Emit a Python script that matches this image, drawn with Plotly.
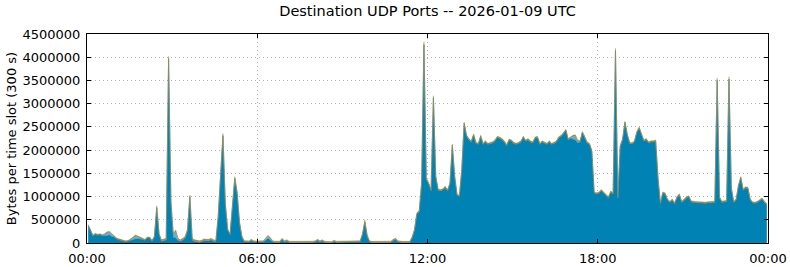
import pandas as pd
import plotly.graph_objects as go

# values in kB per 5-minute slot, one row per hour (12 slots)
blue_kb = [
    380, 280, 150, 190, 170, 180, 160, 150, 160, 170, 140, 130,
    90, 70, 50, 40, 30, 40, 50, 70, 90, 90, 90, 80,
    60, 110, 110, 40, 130, 760, 180, 40, 50, 70, 3970, 870,
    120, 110, 55, 35, 65, 105, 270, 1000, 65, 35, 25, 15,
    30, 60, 50, 50, 70, 40, 30, 570, 1460, 2310, 830, 280,
    180, 770, 1390, 1070, 430, 130, 25, 25, 20, 55, 25, 20,
    25, 35, 25, 55, 95, 65, 25, 15, 15, 15, 75, 25,
    45, 15, 10, 10, 10, 5, 5, 10, 15, 15, 15, 15,
    25, 55, 25, 45, 15, 5, 5, 5, 35, 15, 15, 15,
    15, 15, 15, 25, 25, 25, 25, 25, 175, 450, 145, 25,
    10, 10, 10, 10, 15, 15, 15, 15, 15, 55, 75, 25,
    10, 10, 10, 10, 10, 110, 270, 625, 675, 1270, 4270, 1370,
    1275, 1125, 3130, 1425, 1135, 1125, 1145, 1195, 1125, 1275, 2105, 1425,
    1025, 1005, 1575, 2575, 2305, 2225, 2175, 2325, 2145, 2125, 2295, 2125,
    2175, 2125, 2145, 2155, 2195, 2275, 2255, 2225, 2175, 2095, 2215, 2195,
    2145, 2125, 2145, 2175, 2275, 2195, 2225, 2175, 2155, 2255, 2275, 2125,
    2175, 2155, 2125, 2175, 2125, 2145, 2175, 2265, 2295, 2355, 2425, 2225,
    2255, 2235, 2225, 2155, 2175, 2375, 2275, 2155, 2125, 1975, 1075, 1055,
    1075, 1125, 1075, 1015, 975, 1095, 1055, 4140, 975, 2075, 2225, 2595,
    2325, 2145, 2135, 2175, 2375, 2475, 2355, 2195, 2225, 2155, 2175, 2175,
    2195, 1375, 845, 1075, 1055, 925, 875, 925, 845, 975, 1035, 875,
    915, 975, 995, 885, 875, 865, 865, 865, 855, 855, 865, 865,
    875, 875, 3500, 975, 875, 885, 895, 3530, 1175, 875, 925, 1225,
    1405, 1135, 1185, 1175, 925, 865, 855, 875, 915, 945, 875, 825,
]

light_kb = [
    0, 0, 0, 0, 0, 0, 0, 30, 60, 60, 40, 0,
    0, 0, 0, 0, 0, 0, 20, 50, 60, 40, 20, 0,
    0, 0, 0, 0, 0, 0, 0, 0, 0, 0, 0, 0,
    60, 150, 10, 0, 0, 0, 0, 0, 0, 0, 0, 0,
    0, 0, 0, 0, 0, 0, 0, 0, 0, 0, 0, 0,
    0, 0, 0, 0, 0, 0, 0, 0, 0, 0, 0, 0,
    0, 0, 0, 20, 40, 30, 0, 0, 0, 0, 0, 0,
    0, 0, 0, 0, 0, 0, 0, 0, 0, 0, 0, 0,
    0, 0, 0, 0, 0, 0, 0, 0, 0, 0, 0, 0,
    0, 0, 0, 0, 0, 0, 0, 0, 0, 0, 0, 0,
    0, 0, 0, 0, 0, 0, 0, 0, 0, 0, 0, 0,
    0, 0, 0, 0, 0, 0, 0, 0, 0, 0, 0, 0,
    0, 0, 0, 0, 0, 0, 0, 0, 0, 0, 0, 0,
    0, 0, 0, 0, 0, 0, 0, 0, 0, 0, 0, 0,
    0, 0, 0, 0, 0, 0, 0, 0, 0, 0, 0, 0,
    0, 0, 0, 0, 0, 0, 0, 0, 0, 0, 0, 0,
    0, 0, 0, 0, 0, 0, 0, 0, 0, 0, 0, 0,
    0, 60, 80, 40, 0, 0, 0, 0, 0, 0, 0, 0,
    0, 0, 0, 0, 0, 0, 0, 0, 0, 0, 0, 0,
    0, 0, 0, 0, 0, 0, 0, 0, 0, 0, 0, 0,
    0, 0, 0, 0, 0, 0, 0, 0, 0, 0, 0, 0,
    0, 0, 0, 0, 0, 0, 0, 0, 0, 0, 0, 0,
    0, 0, 0, 0, 0, 0, 0, 0, 0, 0, 0, 0,
    0, 0, 0, 0, 0, 0, 0, 0, 0, 0, 0, 0,
]

orange_kb = [
    0, 0, 0, 0, 0, 0, 0, 0, 0, 0, 0, 0,
    0, 0, 0, 0, 0, 0, 0, 0, 0, 0, 0, 0,
    0, 0, 0, 0, 0, 0, 0, 10, 10, 10, 0, 0,
    0, 0, 15, 15, 15, 15, 10, 0, 15, 15, 15, 15,
    15, 15, 15, 15, 15, 15, 15, 0, 0, 0, 0, 0,
    0, 0, 0, 0, 0, 0, 10, 10, 10, 10, 10, 10,
    10, 10, 10, 10, 10, 10, 10, 10, 10, 10, 10, 10,
    10, 10, 10, 10, 10, 10, 10, 10, 10, 10, 10, 10,
    10, 10, 10, 10, 10, 10, 10, 10, 10, 10, 10, 10,
    10, 10, 10, 10, 10, 10, 10, 10, 10, 10, 10, 10,
    10, 10, 10, 10, 10, 10, 10, 10, 10, 10, 10, 10,
    10, 10, 10, 10, 10, 10, 10, 0, 0, 0, 0, 0,
    0, 0, 0, 0, 0, 0, 0, 0, 0, 0, 0, 0,
    0, 0, 0, 0, 0, 0, 0, 0, 0, 0, 0, 0,
    0, 0, 0, 0, 0, 0, 0, 0, 0, 0, 0, 0,
    0, 0, 0, 0, 0, 0, 0, 0, 0, 0, 0, 0,
    0, 0, 0, 0, 0, 0, 0, 0, 0, 0, 0, 0,
    0, 0, 0, 0, 0, 0, 0, 0, 0, 0, 0, 0,
    0, 0, 0, 0, 0, 0, 0, 0, 0, 0, 0, 0,
    0, 0, 0, 0, 0, 0, 0, 0, 0, 0, 0, 0,
    0, 0, 0, 0, 0, 0, 0, 0, 0, 0, 0, 0,
    0, 0, 0, 0, 0, 0, 0, 0, 0, 0, 0, 0,
    0, 0, 0, 0, 0, 0, 0, 0, 0, 0, 0, 0,
    0, 0, 0, 0, 0, 0, 0, 0, 0, 0, 0, 0,
]

olive_kb = [
    20, 20, 20, 20, 20, 20, 20, 20, 20, 20, 20, 20,
    20, 20, 20, 20, 20, 20, 20, 20, 20, 20, 20, 20,
    20, 20, 20, 20, 20, 40, 20, 20, 20, 20, 50, 30,
    20, 20, 20, 20, 20, 20, 20, 30, 20, 20, 20, 20,
    15, 15, 15, 15, 15, 15, 15, 30, 40, 50, 30, 20,
    20, 30, 40, 30, 20, 20, 15, 15, 15, 15, 15, 15,
    15, 15, 15, 15, 15, 15, 15, 15, 15, 15, 15, 15,
    15, 15, 15, 15, 15, 15, 15, 15, 15, 15, 15, 15,
    15, 15, 15, 15, 15, 15, 15, 15, 15, 15, 15, 15,
    15, 15, 15, 15, 15, 15, 15, 15, 15, 40, 15, 15,
    15, 15, 15, 15, 15, 15, 15, 15, 15, 15, 15, 15,
    15, 15, 15, 15, 15, 20, 20, 25, 25, 30, 60, 30,
    25, 25, 40, 25, 25, 25, 25, 25, 25, 25, 25, 25,
    25, 25, 25, 25, 25, 25, 25, 25, 25, 25, 25, 25,
    25, 25, 25, 25, 25, 25, 25, 25, 25, 25, 25, 25,
    25, 25, 25, 25, 25, 25, 25, 25, 25, 25, 25, 25,
    25, 25, 25, 25, 25, 25, 25, 25, 25, 25, 25, 25,
    25, 25, 25, 25, 25, 25, 25, 25, 25, 25, 25, 25,
    25, 25, 25, 25, 25, 25, 25, 50, 25, 25, 25, 25,
    25, 25, 25, 25, 25, 25, 25, 25, 25, 25, 25, 25,
    25, 25, 25, 25, 25, 25, 25, 25, 25, 25, 25, 25,
    25, 25, 25, 25, 25, 25, 25, 25, 25, 25, 25, 25,
    25, 25, 50, 25, 25, 25, 25, 50, 25, 25, 25, 25,
    25, 25, 25, 25, 25, 25, 25, 25, 25, 25, 25, 25,
]

y_ticks = [0, 500000, 1000000, 1500000, 2000000, 2500000, 3000000, 3500000, 4000000, 4500000]
x_tick_labels = ["00:00", "06:00", "12:00", "18:00", "00:00"]
x_ticks = ["2026-01-09 00:00", "2026-01-09 06:00", "2026-01-09 12:00", "2026-01-09 18:00", "2026-01-10 00:00"]

times = pd.date_range("2026-01-09 00:02:30", periods=len(blue_kb), freq="5min")

series = [
    ("blue", blue_kb, "#0082b4", 0.5),
    ("light", light_kb, "#6aaed6", 0.3),
    ("orange", orange_kb, "#c8782c", 0.3),
    ("olive", olive_kb, "#8a8a3e", 0.4),
]

fig = go.Figure()
for name, vals, col, lw in series:
    fig.add_trace(go.Scatter(
        x=times, y=[v * 1000 for v in vals], name=name,
        mode="lines", stackgroup="one", fillcolor=col,
        line=dict(color=col, width=lw), showlegend=False,
    ))

font = dict(family="DejaVu Sans", size=13, color="black")
fig.update_layout(
    width=790, height=267,
    margin=dict(l=87, r=22, t=34, b=24),
    paper_bgcolor="white", plot_bgcolor="white",
    font=font,
    title=dict(text="Destination UDP Ports -- 2026-01-09 UTC", x=0.5, xanchor="center",
               xref="paper", y=1 - 11 / 267, yanchor="middle",
               font=dict(family="DejaVu Sans", size=14.5, color="black")),
)
fig.update_xaxes(
    range=["2026-01-09 00:00", "2026-01-10 00:00"],
    tickvals=x_ticks, ticktext=x_tick_labels,
    ticks="inside", ticklen=4, tickcolor="black", tickwidth=1,
    showline=True, linecolor="black", linewidth=1, mirror="allticks",
    showgrid=True, gridcolor="#b4b4b4", griddash="1px,3px", gridwidth=1,
    zeroline=False, tickfont=font, automargin=False, ticklabelstandoff=3,
)
fig.update_yaxes(
    range=[0, 4500000],
    tickvals=y_ticks, ticktext=[str(v) for v in y_ticks],
    ticks="inside", ticklen=4, tickcolor="black", tickwidth=1,
    showline=True, linecolor="black", linewidth=1, mirror="allticks",
    showgrid=True, gridcolor="#b4b4b4", griddash="1px,3px", gridwidth=1,
    zeroline=False, tickfont=font, automargin=False, ticklabelstandoff=3,
    title=dict(text="Bytes per time slot (300 s)", font=font, standoff=2),
)
fig.write_html("out.html")
